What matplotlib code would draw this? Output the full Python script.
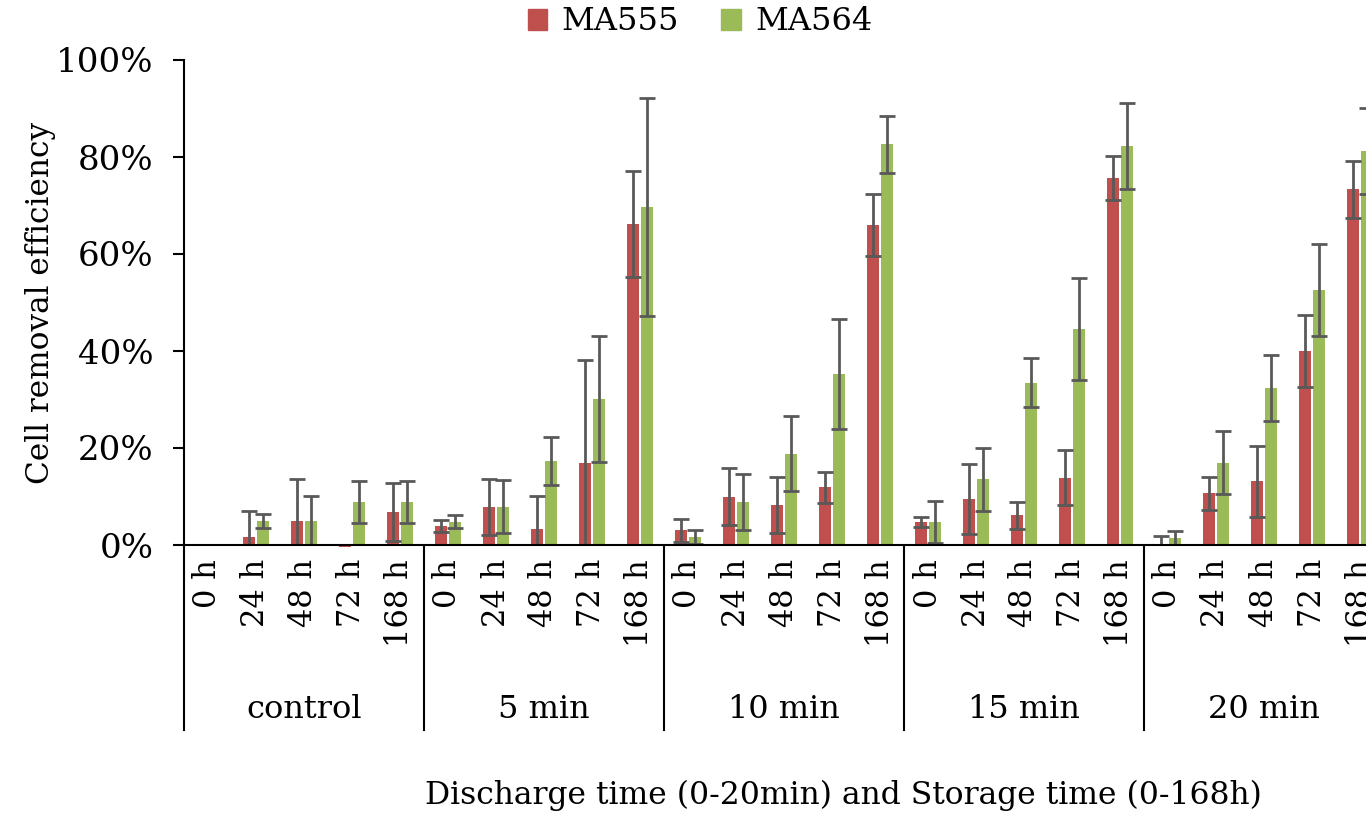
import numpy as np
import matplotlib
matplotlib.use("Agg")
import matplotlib.pyplot as plt
from matplotlib.patches import Patch
from matplotlib.lines import Line2D
from matplotlib.ticker import PercentFormatter

plt.rcParams['font.family'] = ['DejaVu Serif']

groups = ["control", "5 min", "10 min", "15 min", "20 min"]
storage = ["0 h", "24 h", "48 h", "72 h", "168 h"]

ma555 = [0.000, 0.017, 0.050, -0.005, 0.068,
         0.039, 0.078, 0.034, 0.170, 0.662,
         0.030, 0.100, 0.082, 0.119, 0.659,
         0.047, 0.095, 0.061, 0.139, 0.757,
         -0.003, 0.107, 0.131, 0.400, 0.733]
err555 = [0.000, 0.053, 0.087, 0.000, 0.060,
          0.012, 0.058, 0.067, 0.211, 0.109,
          0.024, 0.058, 0.058, 0.032, 0.064,
          0.010, 0.072, 0.028, 0.057, 0.046,
          0.022, 0.034, 0.074, 0.074, 0.059]
ma564 = [0.000, 0.050, 0.050, 0.089, 0.089,
         0.048, 0.079, 0.173, 0.301, 0.697,
         0.017, 0.089, 0.188, 0.353, 0.826,
         0.048, 0.136, 0.335, 0.446, 0.823,
         0.014, 0.170, 0.324, 0.526, 0.812]
err564 = [0.000, 0.014, 0.051, 0.043, 0.043,
          0.013, 0.054, 0.049, 0.130, 0.225,
          0.014, 0.058, 0.077, 0.114, 0.058,
          0.043, 0.065, 0.051, 0.105, 0.088,
          0.015, 0.065, 0.068, 0.095, 0.089]

red = "#C0504D"
green = "#9BBB59"
ecol = "#595959"

fig = plt.figure(figsize=(13.66, 8.14), dpi=100)
# axes runs past the right edge, like the cropped original
ax = fig.add_axes([184/1366, 1-545/814, 1200/1366, 485/814])

x = np.arange(len(ma555))
w = 0.23
off = 0.146
ax.bar(x - off, ma555, w, color=red, clip_on=False, zorder=2)
ax.bar(x + off, ma564, w, color=green, clip_on=False, zorder=2)
ekw = dict(fmt="none", ecolor=ecol, elinewidth=2, capsize=5.5, capthick=2, zorder=3)
ax.errorbar(x - off, ma555, yerr=err555, **ekw)
ax.errorbar(x + off, ma564, yerr=err564, **ekw)

ax.set_xlim(-0.5, len(x) - 0.5)
ax.set_ylim(0, 1)
ax.set_yticks(np.arange(0, 1.01, 0.2))
ax.yaxis.set_major_formatter(PercentFormatter(1.0, decimals=0))
ax.tick_params(axis="y", labelsize=24.5, length=8, width=1.5, pad=14)
ax.set_xticks(x)
ax.set_xticklabels(storage * len(groups), rotation=90, fontsize=22)
ax.tick_params(axis="x", length=0, pad=10)

for s in ["top", "right"]:
    ax.spines[s].set_visible(False)
ax.spines["left"].set_linewidth(1.5)
ax.spines["bottom"].set_linewidth(1.5)
ax.spines["bottom"].set_zorder(4)

tr = ax.get_xaxis_transform()
for i in range(len(groups) + 1):
    xb = i * 5 - 0.5
    ax.add_line(Line2D([xb, xb], [0, -0.382], transform=tr, color="black",
                       lw=1.5, clip_on=False))
for i, g in enumerate(groups):
    ax.text(i * 5 + 2, -0.340, g, transform=tr, ha="center", va="center",
            fontsize=23)

ax.set_ylabel("Cell removal efficiency", fontsize=22.5, labelpad=0)
fig.text(843/1366, 1-795/814, "Discharge time (0-20min) and Storage time (0-168h)",
         ha="center", va="center", fontsize=22.6)

handles = [Patch(color=red, label="MA555"), Patch(color=green, label="MA564")]
fig.legend(handles=handles, loc="center", bbox_to_anchor=(700/1366, 1-22/814),
           ncol=2, frameon=False, fontsize=23, handlelength=0.62, handleheight=0.62,
           handletextpad=0.45, columnspacing=1.3)

fig.savefig("out.png", dpi=100)
